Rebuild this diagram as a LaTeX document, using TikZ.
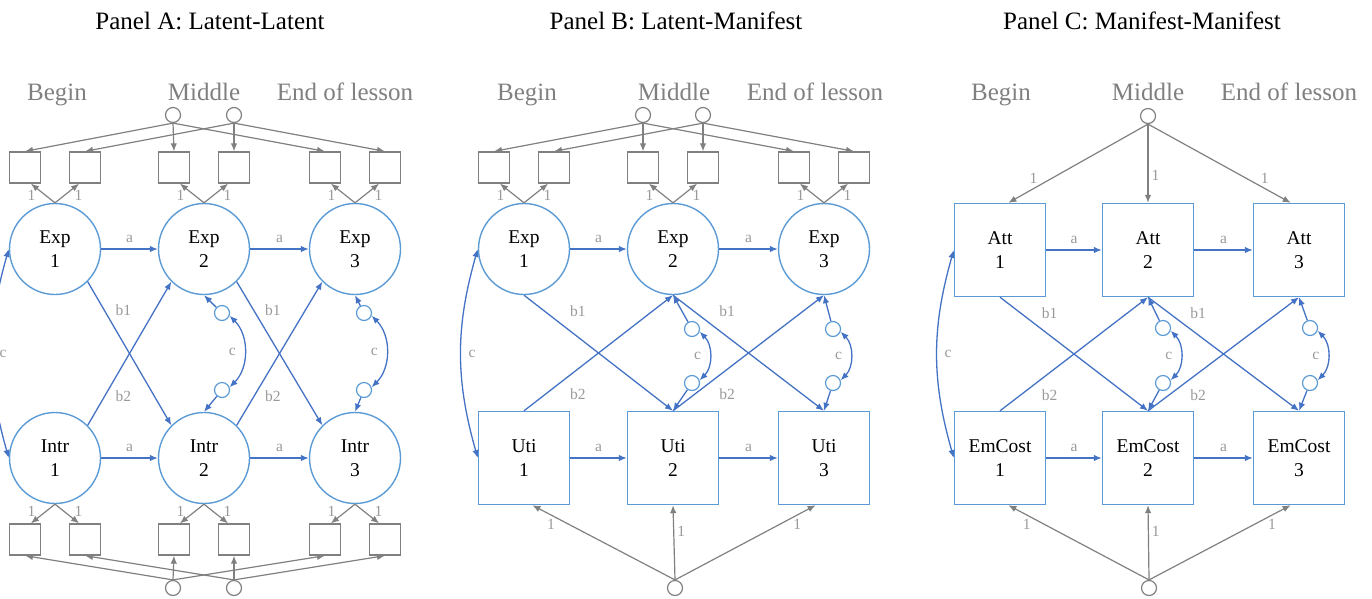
\documentclass[tikz,border=0pt]{standalone}
\usepackage{fontspec}
\setmainfont{Liberation Serif}
\usetikzlibrary{arrows.meta}
\definecolor{semblue}{HTML}{5B9BD5}
\definecolor{patblue}{HTML}{4472C4}
\definecolor{ingray}{HTML}{808080}
\definecolor{lblgray}{HTML}{999999}
\tikzset{
  lat/.style={circle,draw=semblue,line width=1.4pt,minimum size=91pt,inner sep=0pt,align=center,font=\fontsize{19.5}{24}\selectfont},
  obs/.style={rectangle,draw=semblue,line width=1.4pt,minimum width=91pt,minimum height=93pt,inner sep=0pt,align=center,font=\fontsize{19.5}{24}\selectfont},
  ind/.style={rectangle,draw=ingray,line width=1.3pt,minimum size=31pt,inner sep=0pt},
  mth/.style={circle,draw=ingray,line width=1.2pt,minimum size=15pt,inner sep=0pt},
  res/.style={circle,draw=semblue,line width=1.2pt,minimum size=15pt,inner sep=0pt},
  reg/.style={draw=patblue,line width=1.3pt,-{Latex[length=8pt,width=6.5pt]}},
  cov/.style={draw=patblue,line width=1.3pt,{Latex[length=8pt,width=6.5pt]}-{Latex[length=8pt,width=6.5pt]}},
  load/.style={draw=ingray,line width=1.2pt,-{Latex[length=8pt,width=6.5pt]}},
  lbl/.style={text=lblgray,font=\fontsize{15.5}{15.5}\selectfont,inner sep=1pt},
  ttl/.style={font=\fontsize{25}{30}\selectfont,anchor=base},
  wave/.style={text=ingray,font=\fontsize{25}{30}\selectfont,anchor=base}
}
\begin{document}
\begin{tikzpicture}[x=1pt,y=-1pt]
\useasboundingbox (0,0) rectangle (1372,598);
\node[ttl] (tA) at (210,29.5) {Panel A: Latent-Latent};
\node[ttl] (tB) at (676,29.5) {Panel B: Latent-Manifest};
\node[ttl] (tC) at (1142,29.5) {Panel C: Manifest-Manifest};
\foreach \p/\m in {A/204,B/674,C/1148} {
  \node[wave] (beg\p) at (\m-147,100) {Begin};
  \node[wave] (mid\p) at (\m,100) {Middle};
  \node[wave] (end\p) at (\m+141,100) {End of lesson};
}

% Panel A
\foreach \i/\x in {1/55,2/204,3/355} {
  \node[lat] (AE\i) at (\x,249) {Exp\\\i};
  \node[lat] (AI\i) at (\x,458) {Intr\\\i};
  \node[ind] (AEa\i) at (\x-30,167.5) {};
  \node[ind] (AEb\i) at (\x+30,167.5) {};
  \node[ind] (AIa\i) at (\x-30,539.5) {};
  \node[ind] (AIb\i) at (\x+30,539.5) {};
  \draw[load] (AE\i.north) -- (AEa\i.-70) node[lbl,pos=0.75,anchor=north east] {1};
  \draw[load] (AE\i.north) -- (AEb\i.-110) node[lbl,pos=0.75,anchor=north west] {1};
  \draw[load] (AI\i.south) -- (AIa\i.70) node[lbl,pos=0.75,anchor=south east] {1};
  \draw[load] (AI\i.south) -- (AIb\i.110) node[lbl,pos=0.75,anchor=south west] {1};
}
\node[mth] (AT1) at (173,115) {};
\node[mth] (AT2) at (234,115) {};
\node[mth] (AB1) at (173,588) {};
\node[mth] (AB2) at (234,588) {};
\foreach \i in {1,2,3} {
  \draw[load] (AT1.south) -- (AEa\i.north);
  \draw[load] (AT2.south) -- (AEb\i.north);
  \draw[load] (AB1.north) -- (AIa\i.south);
  \draw[load] (AB2.north) -- (AIb\i.south);
}
\foreach \i/\j in {1/2,2/3} {
  \draw[reg] (AE\i) -- (AE\j) node[lbl,midway,above=5pt] {a};
  \draw[reg] (AI\i) -- (AI\j) node[lbl,midway,above=5pt] {a};
  \draw[reg] (AE\i.south east) -- (AI\j.north west) node[lbl,pos=0.2,xshift=19pt] {b1};
  \draw[reg] (AI\i.north east) -- (AE\j.south west) node[lbl,pos=0.2,xshift=19pt] {b2};
}
\foreach \j/\x in {2/222,3/364} {
  \node[res] (Ahu\j) at (\x,313) {};
  \node[res] (Ahl\j) at (\x,390) {};
  \draw[reg] (Ahu\j) -- (AE\j.south);
  \draw[reg] (Ahl\j) -- (AI\j.north);
  \draw[cov] (Ahu\j.-20) to[bend left=45] node[lbl,left=7pt] {c} (Ahl\j.20);
}
\draw[cov] (AE1.west) to[bend right=16] node[lbl,right=6pt] {c} (AI1.west);

% Panel B
\foreach \i/\x in {1/524,2/673,3/824} {
  \node[lat] (BE\i) at (\x,249) {Exp\\\i};
  \node[obs] (BU\i) at (\x,458) {Uti\\\i};
  \node[ind] (BEa\i) at (\x-30,167.5) {};
  \node[ind] (BEb\i) at (\x+30,167.5) {};
  \draw[load] (BE\i.north) -- (BEa\i.-70) node[lbl,pos=0.75,anchor=north east] {1};
  \draw[load] (BE\i.north) -- (BEb\i.-110) node[lbl,pos=0.75,anchor=north west] {1};
}
\node[mth] (BT1) at (643,115) {};
\node[mth] (BT2) at (703,115) {};
\node[mth] (BB) at (675,588) {};
\foreach \i in {1,2,3} {
  \draw[load] (BT1.south) -- (BEa\i.north);
  \draw[load] (BT2.south) -- (BEb\i.north);
}
\draw[load] (BB.north) -- (BU1.-80) node[lbl,pos=0.83,anchor=north east] {1};
\draw[load] (BB.north) -- (BU2.south) node[lbl,pos=0.65,anchor=west,xshift=2pt] {1};
\draw[load] (BB.north) -- (BU3.-100) node[lbl,pos=0.83,anchor=north west] {1};
\foreach \i/\j in {1/2,2/3} {
  \draw[reg] (BE\i) -- (BE\j) node[lbl,midway,above=5pt] {a};
  \draw[reg] (BU\i) -- (BU\j) node[lbl,midway,above=5pt] {a};
  \draw[reg] (BE\i.south) -- (BU\j.north) node[lbl,pos=0.14,xshift=33pt] {b1};
  \draw[reg] (BU\i.north) -- (BE\j.south) node[lbl,pos=0.14,xshift=33pt] {b2};
}
\foreach \j/\x in {2/692,3/833} {
  \node[res] (Bhu\j) at (\x,329) {};
  \node[res] (Bhl\j) at (\x,383) {};
  \draw[reg] (Bhu\j) -- (BE\j.south);
  \draw[reg] (Bhl\j) -- (BU\j.north);
  \draw[cov] (Bhu\j.-20) to[bend left=45] node[lbl,left=7pt] {c} (Bhl\j.20);
}
\draw[cov] (BE1.west) to[bend right=16] node[lbl,right=6pt] {c} (BU1.west);

% Panel C
\foreach \i/\x in {1/1000,2/1148,3/1299} {
  \node[obs] (CA\i) at (\x,250) {Att\\\i};
  \node[obs] (CE\i) at (\x,458) {EmCost\\\i};
}
\node[mth] (CT) at (1148,116) {};
\node[mth] (CB) at (1149,588) {};
\draw[load] (CT.south) -- (CA1.80) node[lbl,pos=0.78,anchor=south east] {1};
\draw[load] (CT.south) -- (CA2.north) node[lbl,pos=0.65,anchor=west,xshift=2pt] {1};
\draw[load] (CT.south) -- (CA3.100) node[lbl,pos=0.78,anchor=south west] {1};
\draw[load] (CB.north) -- (CE1.-80) node[lbl,pos=0.83,anchor=north east] {1};
\draw[load] (CB.north) -- (CE2.south) node[lbl,pos=0.65,anchor=west,xshift=2pt] {1};
\draw[load] (CB.north) -- (CE3.-100) node[lbl,pos=0.83,anchor=north west] {1};
\foreach \i/\j in {1/2,2/3} {
  \draw[reg] (CA\i) -- (CA\j) node[lbl,midway,above=5pt] {a};
  \draw[reg] (CE\i) -- (CE\j) node[lbl,midway,above=5pt] {a};
  \draw[reg] (CA\i.south) -- (CE\j.north) node[lbl,pos=0.14,xshift=29pt] {b1};
  \draw[reg] (CE\i.north) -- (CA\j.south) node[lbl,pos=0.14,xshift=29pt] {b2};
}
\foreach \j/\x in {2/1163,3/1310} {
  \node[res] (Chu\j) at (\x,328) {};
  \node[res] (Chl\j) at (\x,383) {};
  \draw[reg] (Chu\j) -- (CA\j.south);
  \draw[reg] (Chl\j) -- (CE\j.north);
  \draw[cov] (Chu\j.-20) to[bend left=45] node[lbl,left=7pt] {c} (Chl\j.20);
}
\draw[cov] (CA1.west) to[bend right=16] node[lbl,right=6pt] {c} (CE1.west);
\end{tikzpicture}
\end{document}
